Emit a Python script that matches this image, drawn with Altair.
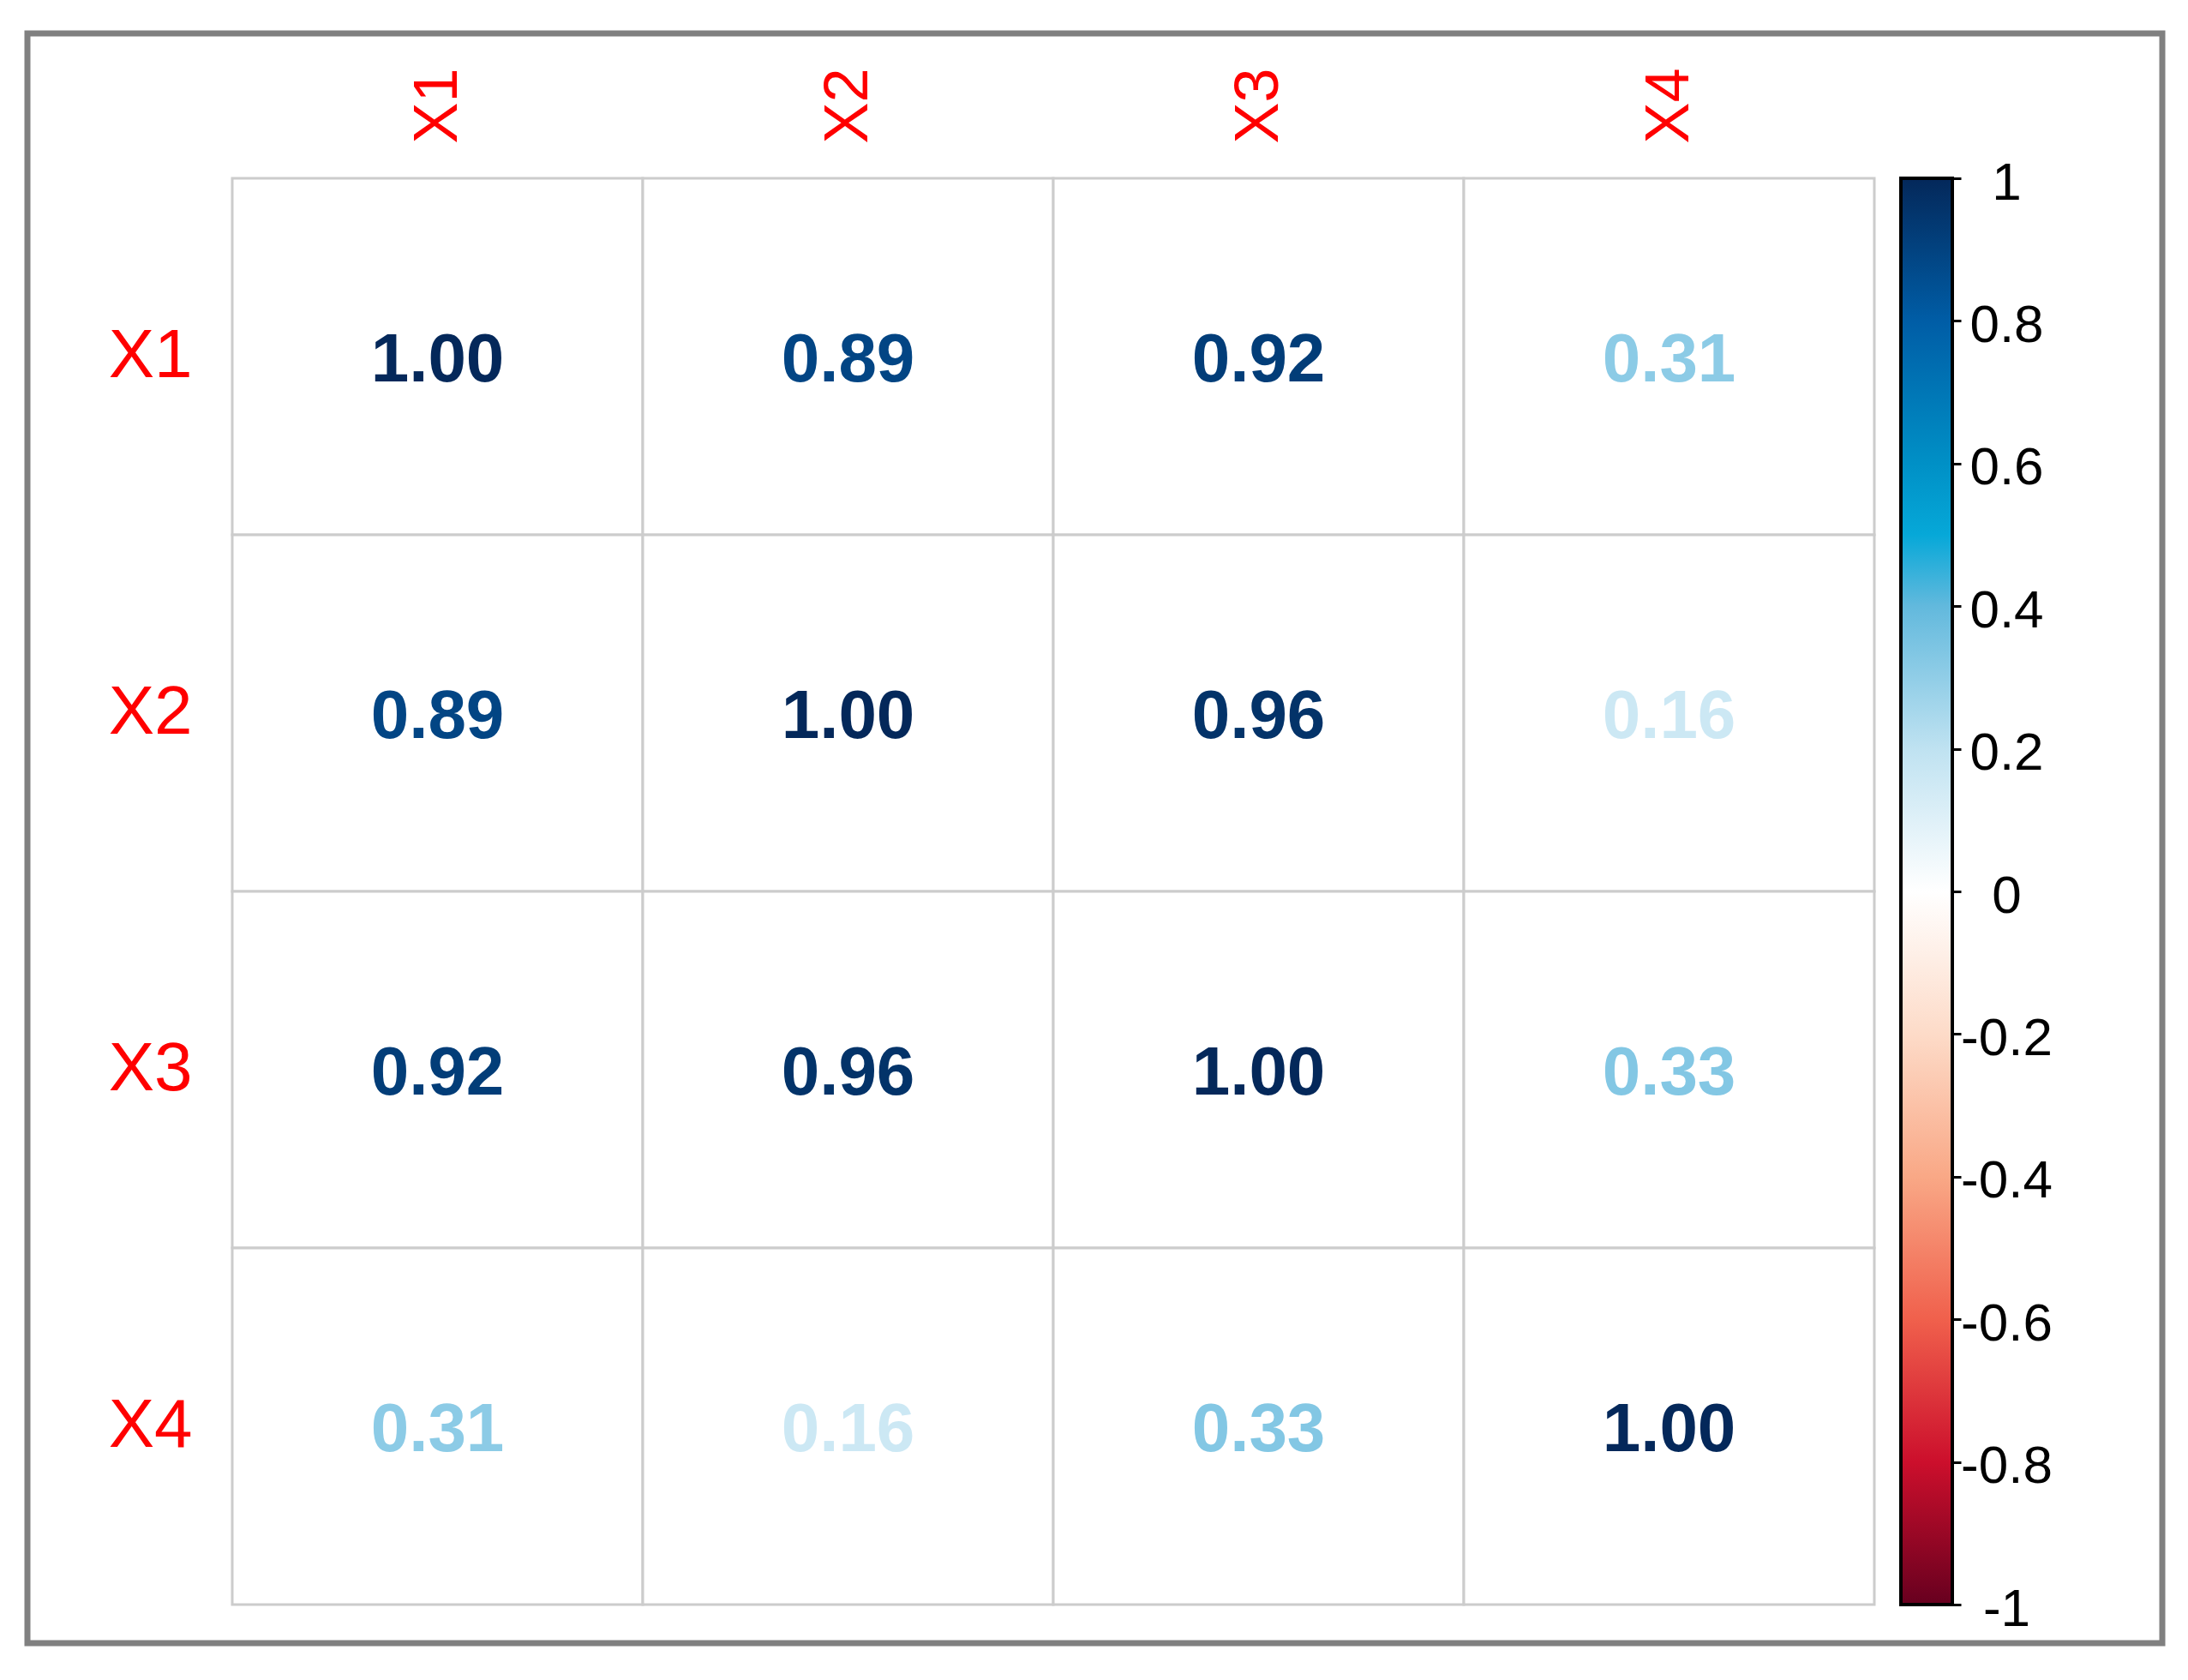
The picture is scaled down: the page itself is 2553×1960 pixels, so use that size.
import altair as alt
import pandas as pd

# ---- data ----
labels = ["X1", "X2", "X3", "X4"]
corr = [
    [1.00, 0.89, 0.92, 0.31],
    [0.89, 1.00, 0.96, 0.16],
    [0.92, 0.96, 1.00, 0.33],
    [0.31, 0.16, 0.33, 1.00],
]
cbar_ticks = [-1, -0.8, -0.6, -0.4, -0.2, 0, 0.2, 0.4, 0.6, 0.8, 1]
stop_values = [-1, -0.8, -0.6, -0.4, -0.2, 0, 0.2, 0.4, 0.5, 0.6, 0.8, 1]
stop_colors = ["#67001F", "#CC0F2C", "#F0604C", "#F9A886", "#FDDBC8", "#FFFFFF",
               "#BFE2F1", "#62B9DD", "#06A8D8", "#0090C6", "#005DA6", "#04285A"]

records = []
for i, r in enumerate(labels):
    for j, c in enumerate(labels):
        records.append({"row": r, "col": c, "value": corr[i][j]})
df = pd.DataFrame(records)

W, H = 1916, 1664
FONT = "Liberation Sans"

base = alt.Chart(df).encode(
    x=alt.X("col:N", sort=labels, title=None,
            scale=alt.Scale(paddingInner=0, paddingOuter=0),
            axis=alt.Axis(orient="top", labelAngle=-90, labelAlign="left",
                          labelBaseline="middle", labelColor="#FF0000",
                          labelFontSize=72, labelFont=FONT, labelPadding=41,
                          ticks=False, domain=False, grid=False)),
    y=alt.Y("row:N", sort=labels, title=None,
            scale=alt.Scale(paddingInner=0, paddingOuter=0),
            axis=alt.Axis(orient="left", labelAngle=0, labelAlign="right",
                          labelBaseline="middle", labelColor="#FF0000",
                          labelFontSize=80, labelFont=FONT, labelPadding=47,
                          ticks=False, domain=False, grid=False)),
)

cells = base.mark_rect(fill="white", stroke="#CCCCCC", strokeWidth=3)
nums = base.mark_text(fontWeight="bold", fontSize=80, font=FONT,
                      baseline="middle", dy=5).encode(
    text=alt.Text("value:Q", format=".2f"),
    color=alt.Color("value:Q",
                    scale=alt.Scale(domain=stop_values, range=stop_colors,
                                    interpolate="rgb"),
                    legend=None),
)

frame = alt.Chart(alt.Data(values=[{"f": 1}])).mark_rect(
    fillOpacity=0, stroke="#808080", strokeWidth=7
).encode(
    x=alt.value(-239), x2=alt.value(2252),
    y=alt.value(-169), y2=alt.value(1709),
)

heat = alt.layer(frame, cells, nums).properties(width=W, height=H)

gradient = alt.Gradient(
    gradient="linear",
    stops=[alt.GradientStop(offset=(v + 1) / 2, color=c)
           for v, c in zip(stop_values, stop_colors)],
    x1=0, x2=0, y1=1, y2=0,
)

bar_df = pd.DataFrame({"lo": [-1], "hi": [1]})
bar = alt.Chart(bar_df).mark_rect(fill=gradient, stroke="black", strokeWidth=4).encode(
    y=alt.Y("lo:Q", title=None,
            scale=alt.Scale(domain=[-1, 1], nice=False, zero=False),
            axis=alt.Axis(orient="right", values=cbar_ticks,
                          labelExpr="replace(format(datum.value, '~g'), '\u2212', '-')",
                          labelAlign="center", labelBaseline="middle",
                          labelFontSize=62, labelFont=FONT, labelColor="black",
                          labelPadding=53, labelOffset=5,
                          labelFlush=False, labelOverlap=False,
                          tickSize=10, tickWidth=3, tickColor="black",
                          domain=False, grid=False)),
    y2="hi:Q",
).properties(width=60, height=H)

chart = alt.hconcat(heat, bar, spacing=31, bounds="flush").properties(
    padding={"left": 20, "top": 27, "right": 10, "bottom": 10},
    background="white",
).configure_view(strokeWidth=0)

chart.save("out.html", embed_options={"renderer": "svg", "actions": False})
